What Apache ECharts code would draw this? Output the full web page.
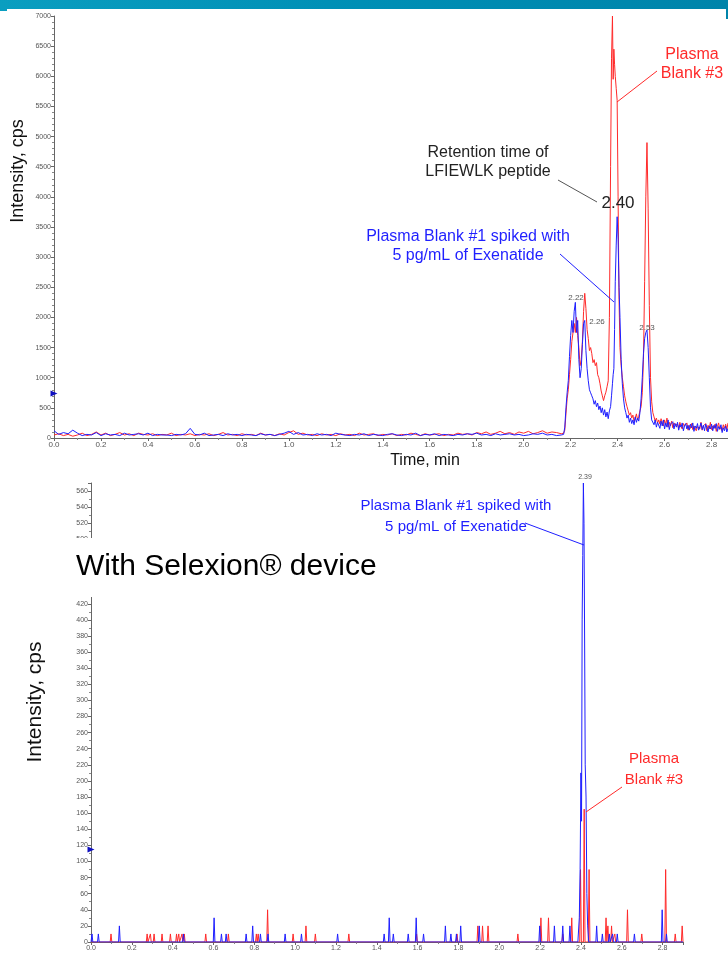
<!DOCTYPE html>
<html><head><meta charset="utf-8">
<script src="https://cdn.jsdelivr.net/npm/echarts@6/dist/echarts.min.js"></script>
<style>html,body{margin:0;padding:0;background:#fff}#c{width:728px;height:953px}</style>
</head><body><div id="c"></div>
<script>
// ---------- TOP PANEL DATA (without Selexion) ----------
const topTimeBase = [
0.00,0.02,0.04,0.06,0.08,0.10,0.12,0.14,0.16,0.18,
0.20,0.22,0.24,0.26,0.28,0.30,0.32,0.34,0.36,0.38,
0.40,0.42,0.44,0.46,0.48,0.50,0.52,0.54,0.56,0.58,
0.60,0.62,0.64,0.66,0.68,0.70,0.72,0.74,0.76,0.78,
0.80,0.82,0.84,0.86,0.88,0.90,0.92,0.94,0.96,0.98,
1.00,1.02,1.04,1.06,1.08,1.10,1.12,1.14,1.16,1.18,
1.20,1.22,1.24,1.26,1.28,1.30,1.32,1.34,1.36,1.38,
1.40,1.42,1.44,1.46,1.48,1.50,1.52,1.54,1.56,1.58,
1.60,1.62,1.64,1.66,1.68,1.70,1.72,1.74,1.76,1.78,
1.80,1.82,1.84,1.86,1.88,1.90,1.92,1.94,1.96,1.98,
2.00,2.02,2.04,2.06,2.08,2.10,2.12,2.14,2.16];
const topTimeFine = [
2.170,2.175,2.180,2.185,2.190,2.195,2.200,2.205,2.210,2.215,
2.220,2.225,2.230,2.235,2.240,2.245,2.250,2.255,2.260,2.265,
2.270,2.275,2.280,2.285,2.290,2.295,2.300,2.305,2.310,2.315,
2.320,2.325,2.330,2.335,2.340,2.345,2.350,2.355,2.360,2.365,
2.370,2.374,2.378,2.381,2.384,2.387,2.390,2.394,2.398,2.402,
2.406,2.410,2.415,2.420,2.425,2.430,2.435,2.440,2.445,2.450,
2.455,2.460,2.465,2.470,2.475,2.480,2.485,2.490,2.495,2.500,
2.505,2.510,2.515,2.520,2.525,2.530,2.535,2.540,2.545,2.550,
2.555,2.560,2.565,2.570,2.575,2.580,2.585,2.590,2.595,2.600,
2.605,2.610,2.615,2.620,2.625,2.630,2.635,2.640,2.645,2.650,
2.655,2.660,2.665,2.670,2.675,2.680,2.685,2.690,2.695,2.700,
2.705,2.710,2.715,2.720,2.725,2.730,2.735,2.740,2.745,2.750,
2.755,2.760,2.765,2.770,2.775,2.780,2.785,2.790,2.795,2.800,
2.805,2.810,2.815,2.820,2.825,2.830,2.835,2.840,2.845,2.850,
2.855,2.860,2.865,2.870];
const topBlueBase = [
120,60,90,70,130,80,40,60,50,90,
40,70,50,60,40,80,50,60,70,50,
80,40,60,50,50,40,60,50,70,160,
60,50,80,40,50,60,40,70,50,60,
40,60,50,40,70,50,60,40,60,80,
110,60,90,50,60,40,70,50,60,40,
80,60,50,40,60,50,70,40,60,50,
40,60,70,50,40,60,50,80,40,60,
50,70,40,60,50,40,60,50,70,60,
80,50,60,40,70,50,60,70,50,60,
40,50,70,60,80,50,60,40,50];
const topBlueFine = [
60,180,500,750,950,1350,1700,1950,1750,2100,
2250,1750,1950,1300,1000,1150,1550,1900,1950,1450,
1150,950,800,750,700,650,560,620,520,580,
470,530,420,500,380,470,350,430,320,450,
520,700,900,1050,1150,1800,2600,3200,3670,3300,
2500,2000,1300,900,650,500,420,330,380,260,
330,240,300,220,350,260,330,280,420,650,
1000,1400,1650,1750,1790,1500,1000,500,300,330,
220,300,180,260,240,160,280,200,300,150,
250,180,300,140,230,200,270,150,240,180,
260,130,220,180,250,120,200,240,150,210,
130,230,170,250,110,200,160,240,130,190,
250,140,210,120,230,170,100,200,150,230,
120,210,160,240,110,190,150,220,90,170,
120,200,100,160];
const topRedBase = [
50,70,40,60,30,50,80,40,60,100,
50,80,40,60,90,50,70,40,80,60,
50,70,40,60,50,80,40,60,50,70,
40,60,50,70,40,60,90,50,60,40,
70,50,60,40,80,50,60,40,70,50,
90,120,60,80,50,60,40,70,50,60,
40,70,50,60,40,80,50,60,70,40,
60,50,70,40,60,50,80,60,40,70,
50,60,70,40,60,50,80,60,70,50,
90,70,100,60,80,110,70,90,60,100,
80,110,70,90,120,80,100,90,70];
const topRedFine = [
80,130,400,650,800,1050,1300,1600,1750,1900,
1750,2000,1700,1500,1200,1300,1600,2100,2400,2150,
1800,1650,1450,1500,1400,1250,1300,1200,1250,1050,
1000,900,780,700,620,700,760,850,950,2000,
4500,6300,7000,5950,6450,6200,6000,5800,5600,4000,
2300,1500,1200,1000,850,700,600,520,450,380,
420,330,380,280,330,400,300,360,450,520,
750,1300,2600,4000,4900,3800,2200,1000,600,420,
350,280,330,250,300,230,320,260,200,300,
220,330,180,260,200,280,170,250,210,180,
230,160,260,190,150,240,200,170,250,130,
210,160,240,140,200,230,120,190,220,150,
260,130,200,170,240,120,210,150,260,140,
200,160,230,110,190,250,140,180,120,220,
160,230,140,250];

// ---------- BOTTOM PANEL DATA (with Selexion) ----------
const botBlueSpikeT = [0.005,0.036,0.139,0.453,0.603,0.639,0.662,0.760,0.792,0.830,0.867,0.951,1.031,1.208,1.436,1.461,1.481,1.554,1.593,1.629,1.736,1.763,1.790,1.811,1.902,2.198,2.270,2.311,2.346,2.477,2.505,2.539,2.555,2.578,2.662,2.798,2.819];
const botBlueSpikeV = [10,10,20,10,30,10,10,10,20,10,10,10,10,10,10,30,10,10,30,10,20,10,10,20,20,20,20,20,20,20,10,10,10,10,10,40,10];
const botBluePeakT = [2.385,2.392,2.396,2.400,2.403,2.406,2.409,2.412,2.415,2.418,2.421,2.425,2.429,2.433,2.438];
const botBluePeakV = [0,30,90,210,150,400,480,570,520,380,220,180,60,20,0];
const botRedSpikeT = [0.098,0.275,0.291,0.309,0.348,0.389,0.419,0.430,0.446,0.457,0.562,0.673,0.810,0.819,0.865,0.990,1.053,1.099,1.263,1.595,1.793,1.895,1.918,1.945,2.091,2.204,2.241,2.311,2.355,2.398,2.416,2.440,2.523,2.532,2.550,2.566,2.628,2.698,2.815,2.862,2.896];
const botRedSpikeV = [10,10,10,10,10,10,10,10,10,10,10,10,10,10,40,10,20,10,10,10,10,20,20,20,10,30,30,10,30,90,165,90,30,20,20,10,40,10,90,10,20];

// ---------- AXIS TICK SETTINGS ----------
const topYTicks = {min:0, max:7000, interval:500};
const topXTicks = {min:0, max:2.87, interval:0.2};
const botYTicks = {min:0, max:570, interval:20};
const botXTicks = {min:0, max:2.9, interval:0.2};

const FONT = "'Liberation Sans', Arial, sans-serif";
const RED = '#ff2a2a', BLUE = '#1f1fff';

function zip(ts, vs){ return ts.map((t,i)=>[t, vs[i]]); }
function stick(ts, vs, pt, pv, xmax){
  const pts = [];
  ts.forEach((t,i)=>{ pts.push([t-0.004,0],[t,vs[i]],[t+0.004,0]); });
  if (pt) pt.forEach((t,i)=>pts.push([t,pv[i]]));
  pts.sort((a,b)=>a[0]-b[0]);
  return [[0,0]].concat(pts,[[xmax,0]]);
}

const topBlue = zip(topTimeBase.concat(topTimeFine), topBlueBase.concat(topBlueFine));
const topRed  = zip(topTimeBase.concat(topTimeFine), topRedBase.concat(topRedFine));
const botBlue = stick(botBlueSpikeT, botBlueSpikeV, botBluePeakT, botBluePeakV, botXTicks.max);
const botRed  = stick(botRedSpikeT, botRedSpikeV, null, null, botXTicks.max);

function xAxisCfg(g, t, fs){
  return {gridIndex:g, type:'value', min:t.min, max:t.max, interval:t.interval,
    axisLine:{show:true, onZero:false, lineStyle:{color:'#666', width:1}},
    axisTick:{show:true, length:3, lineStyle:{color:'#666'}},
    minorTick:{show:true, splitNumber:2, length:2, lineStyle:{color:'#888'}},
    axisLabel:{fontSize:fs, color:'#555', fontFamily:FONT, margin:3, showMaxLabel:false,
      formatter:v=>v.toFixed(1)},
    splitLine:{show:false}};
}
function yAxisCfg(g, t, split){
  return {gridIndex:g, type:'value', min:t.min, max:t.max, interval:t.interval,
    axisLine:{show:true, lineStyle:{color:'#666', width:1}},
    axisTick:{show:true, length:3, lineStyle:{color:'#666'}},
    minorTick:{show:true, splitNumber:split, length:2, lineStyle:{color:'#888'}},
    axisLabel:{fontSize:7, color:'#555', fontFamily:FONT, margin:3,
      showMaxLabel: t.max % t.interval === 0, formatter:v=>String(v)},
    splitLine:{show:false}};
}
function tri(v){
  return {symbol:'triangle', symbolSize:[6,7], symbolRotate:-90, silent:true,
    itemStyle:{color:'#1010c0'}, label:{show:false}, data:[{coord:[0, v]}]};
}

const chart = echarts.init(document.getElementById('c'), null, {renderer:'canvas'});
function txt(s, x, y, size, color, opts){
  return Object.assign({type:'text', z:100, x:x, y:y,
    style:{text:s, font: size + 'px ' + FONT, fill:color, align:'center', verticalAlign:'middle'}}, opts||{});
}
function ln(x1,y1,x2,y2,color){
  return {type:'line', z:100, shape:{x1:x1,y1:y1,x2:x2,y2:y2}, style:{stroke:color, lineWidth:1}};
}

chart.setOption({
  animation:false,
  backgroundColor:'#fff',
  grid:[{left:54, top:16, right:0, height:422},
        {left:91, top:483, width:592, height:459}],
  xAxis:[xAxisCfg(0, topXTicks, 8), xAxisCfg(1, botXTicks, 7)],
  yAxis:[yAxisCfg(0, topYTicks, 5), yAxisCfg(1, botYTicks, 2)],
  series:[
    {type:'line', xAxisIndex:0, yAxisIndex:0, data:topRed, showSymbol:false, lineStyle:{color:RED, width:1}, z:2},
    {type:'line', xAxisIndex:0, yAxisIndex:0, data:topBlue, showSymbol:false, lineStyle:{color:BLUE, width:1}, z:3, markPoint:tri(740)},
    {type:'line', xAxisIndex:1, yAxisIndex:1, data:botRed, showSymbol:false, lineStyle:{color:RED, width:1}, z:2},
    {type:'line', xAxisIndex:1, yAxisIndex:1, data:botBlue, showSymbol:false, lineStyle:{color:BLUE, width:1}, z:3, markPoint:tri(115)}
  ],
  graphic:[
    {type:'rect', z:100, shape:{x:0, y:0, width:728, height:9},
     style:{fill:new echarts.graphic.LinearGradient(0,0,1,0,[{offset:0,color:'#0a9ec0'},{offset:0.45,color:'#0090b6'},{offset:1,color:'#0084aa'}])}},
    {type:'rect', z:100, shape:{x:0, y:9, width:7, height:2}, style:{fill:'#0a9ec0'}},
    {type:'rect', z:100, shape:{x:726, y:9, width:2, height:10}, style:{fill:'#0084aa'}},
    // axis titles
    txt('Intensity, cps', 18, 171, 18, '#111', {rotation:Math.PI/2}),
    txt('Time, min', 425, 461, 16, '#111'),
    txt('Intensity, cps', 35, 702, 21, '#111', {rotation:Math.PI/2}),
    // top annotations
    txt('Plasma', 692, 55, 16, RED), txt('Blank #3', 692, 74, 16, RED),
    ln(657, 71, 617, 102, RED),
    txt('Retention time of', 488, 153, 16, '#222'), txt('LFIEWLK peptide', 488, 172, 16, '#222'),
    ln(558, 180, 597, 202, '#555'),
    txt('2.40', 618, 203, 17, '#222'),
    txt('Plasma Blank #1 spiked with', 468, 237, 16, BLUE), txt('5 pg/mL of Exenatide', 468, 256, 16, BLUE),
    ln(560, 254, 614, 302, BLUE),
    txt('2.22', 576, 298, 8, '#555'), txt('2.26', 597, 322, 8, '#555'), txt('2.53', 647, 328, 8, '#555'),
    // bottom annotations
    txt('2.39', 585, 477, 7, '#555'),
    txt('Plasma Blank #1 spiked with', 456, 506, 15, BLUE), txt('5 pg/mL of Exenatide', 456, 527, 15, BLUE),
    ln(525, 523, 584, 545, BLUE),
    txt('Plasma', 654, 759, 15, RED), txt('Blank #3', 654, 780, 15, RED),
    ln(622, 787, 586, 812, RED),
    {type:'rect', z:100, shape:{x:40, y:538, width:345, height:59}, style:{fill:'#fff'}},
    {type:'text', z:101, x:76, y:567, style:{text:'With Selexion® device', font:'30px ' + FONT, fill:'#000', align:'left', verticalAlign:'middle'}}
  ]
});
</script>
</body></html>
